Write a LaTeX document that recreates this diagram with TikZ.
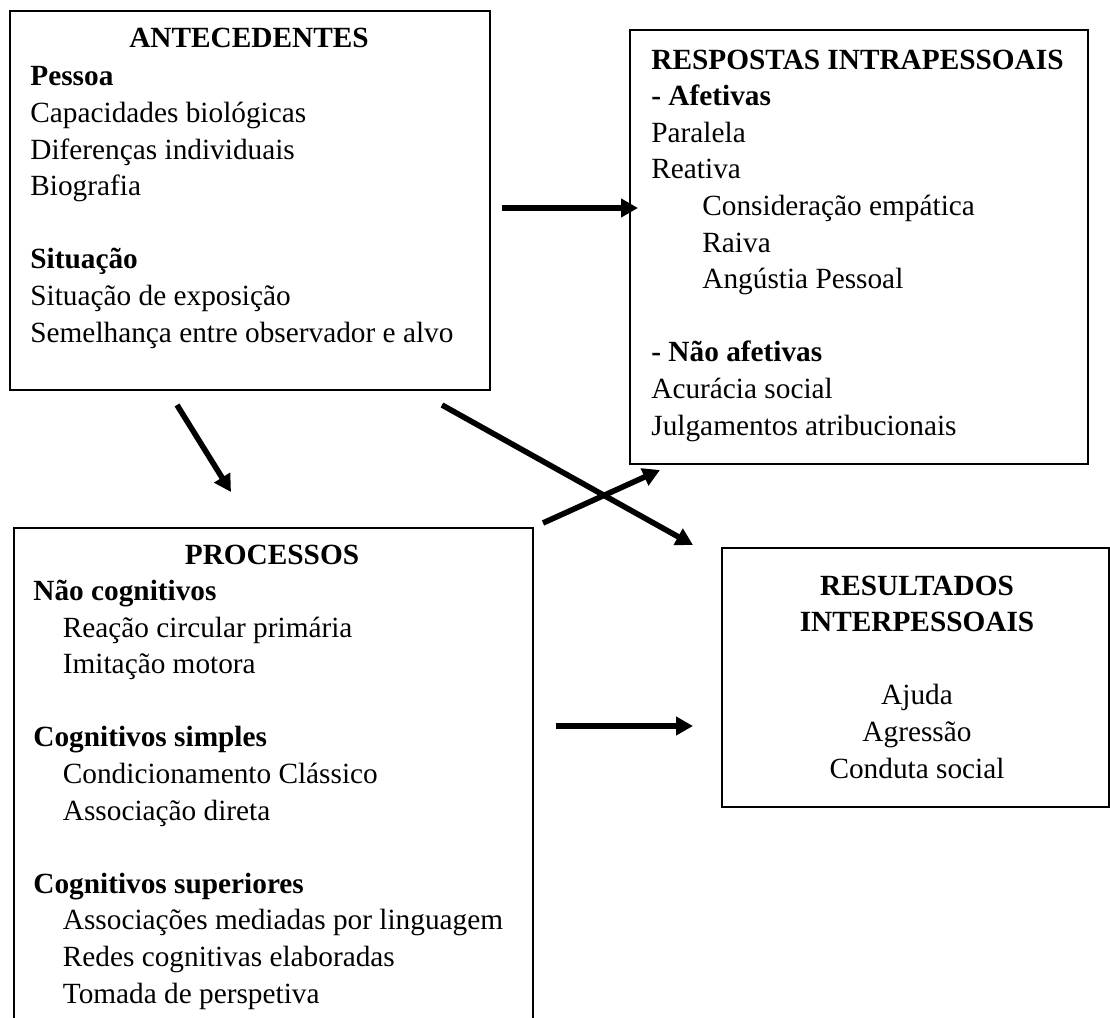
\documentclass[tikz,border=0pt]{standalone}
\usepackage{fontspec}
\setmainfont{Liberation Serif}
\usetikzlibrary{arrows.meta,positioning}

\begin{document}
\begin{tikzpicture}[x=0.5pt, y=-0.5pt,
    box/.style={draw, line width=1pt, rectangle, inner sep=0pt, anchor=north west},
    txt/.style={align=left, inner sep=0pt, font=\fontsize{14.65}{18.3}\selectfont},
    ttl/.style={inner sep=0pt, font=\fontsize{14.65}{18.3}\selectfont\bfseries},
    arr/.style={line width=2.8pt, -{Triangle[length=8.5pt,width=9pt]}}]
  \def\lh{18.3pt}
  \def\inda{25.5pt}
  \def\indb{14.75pt}

  % Fixed bounding box (size of the figure)
  \path[use as bounding box] (0,0) rectangle (1110,1018);

  % ---- Boxes ----
  \node[box, minimum width=240pt, minimum height=189.5pt] (ant) at (9,10) {};
  \node[box, minimum width=229pt, minimum height=217pt] (resp) at (629,29) {};
  \node[box, minimum width=259.5pt, minimum height=270pt] (proc) at (13,527) {};
  \node[box, minimum width=193.5pt, minimum height=129.5pt] (res) at (721,547) {};

  % ---- Antecedentes (body placed by its last baseline) ----
  \node[ttl, anchor=base] (antTitle) at (249,47) {ANTECEDENTES};
  \node[txt, anchor=base west] (antBody) at (30,342) {\textbf{Pessoa}\\
    Capacidades biológicas\\
    Diferenças individuais\\
    Biografia\\[\lh]
    \textbf{Situação}\\
    Situação de exposição\\
    Semelhança entre observador e alvo};

  % ---- Respostas intrapessoais ----
  \node[txt, anchor=base west] (respBody) at (651,435) {\textbf{RESPOSTAS INTRAPESSOAIS}\\
    \textbf{- Afetivas}\\
    Paralela\\
    Reativa\\
    \hspace*{\inda}Consideração empática\\
    \hspace*{\inda}Raiva\\
    \hspace*{\inda}Angústia Pessoal\\[\lh]
    \textbf{- Não afetivas}\\
    Acurácia social\\
    Julgamentos atribucionais};

  % ---- Processos ----
  \node[ttl, anchor=base] (procTitle) at (272,564) {PROCESSOS};
  \node[txt, anchor=base west] (procBody) at (33,1003) {\textbf{Não cognitivos}\\
    \hspace*{\indb}Reação circular primária\\
    \hspace*{\indb}Imitação motora\\[\lh]
    \textbf{Cognitivos simples}\\
    \hspace*{\indb}Condicionamento Clássico\\
    \hspace*{\indb}Associação direta\\[\lh]
    \textbf{Cognitivos superiores}\\
    \hspace*{\indb}Associações mediadas por linguagem\\
    \hspace*{\indb}Redes cognitivas elaboradas\\
    \hspace*{\indb}Tomada de perspetiva};

  % ---- Resultados interpessoais ----
  \node[txt, align=center, anchor=base] (resBody) at (917,778) {\textbf{RESULTADOS}\\
    \textbf{INTERPESSOAIS}\\[\lh]
    Ajuda\\
    Agressão\\
    Conduta social};

  % ---- Arrows ----
  \coordinate (a1s) at (502,208);  \coordinate (a1e) at (638,208);
  \coordinate (a2s) at (177,405);  \coordinate (a2e) at (231,492);
  \coordinate (a3s) at (442,405);  \coordinate (a3e) at (693,545);
  \coordinate (a4s) at (543,523);  \coordinate (a4e) at (660,470);
  \coordinate (a5s) at (556,726);  \coordinate (a5e) at (693,726);
  \foreach \i in {1,...,5} {
    \draw[arr] (a\i s) -- (a\i e);
  }

\end{tikzpicture}
\end{document}
